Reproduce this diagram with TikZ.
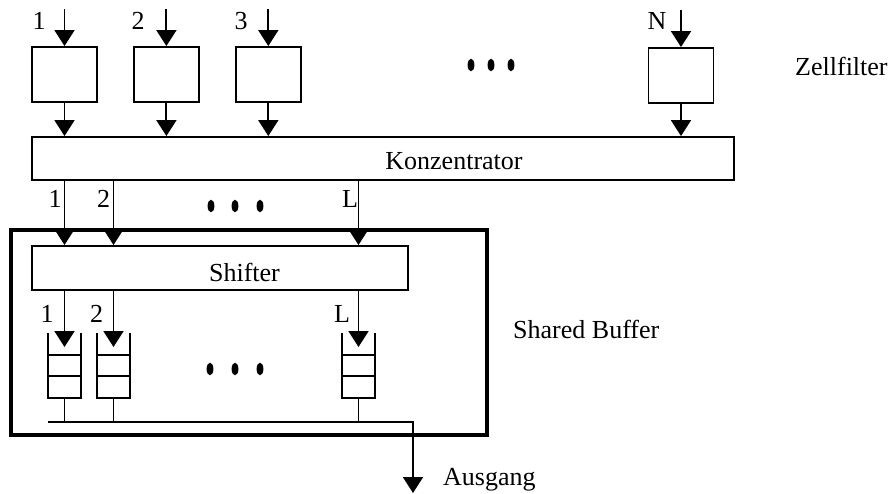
\documentclass[tikz,border=0pt]{standalone}
\usepackage{fontspec}
\setmainfont{Liberation Serif}
\usepackage{tikz}
\usetikzlibrary{positioning,arrows.meta,calc}
\tikzset{
  filt/.style={draw, line width=1.9pt, minimum width=65pt, minimum height=55pt, inner sep=0pt},
  bar/.style={draw, line width=1.9pt, minimum height=44pt, inner sep=0pt},
  frame/.style={draw, line width=3.6pt, minimum width=476pt, minimum height=205pt, inner sep=0pt},
  queue/.style={minimum width=33pt, minimum height=65pt, inner sep=0pt, outer sep=0pt},
  lbl/.style={inner sep=0pt, font=\fontsize{26}{30}\selectfont},
  flow/.style={-{Triangle[length=16pt,width=20pt]}, line width=1.9pt},
  wire/.style={line width=1.9pt},
}

\begin{document}
\begin{tikzpicture}[x=1pt, y=1pt, node distance=35pt]
\useasboundingbox (0,0) rectangle (891,-494);
\node[filt] (f1) at (64.5,-74.5) {};
\node[filt, right=of f1] (f2) {};
\node[filt, right=of f2] (f3) {};
\node[filt] (fN) at (681,-75.5) {};
\node[bar, minimum width=702pt, minimum height=43pt] (konz) at (383,-158.5) {};
\node[frame] (sbuf) at (249,-332.5) {};
\node[bar, minimum width=376pt] (shift) at (220,-268) {};
\node[queue] (q1) at (64.5,-365.5) {};
\node[queue] (q2) at (113.5,-365.5) {};
\node[queue] (qL) at (358.5,-365.5) {};
\node[lbl, anchor=base] (n1) at (39,-30) {1};
\node[lbl, anchor=base] (n2) at (138,-30) {2};
\node[lbl, anchor=base] (n3) at (241,-30) {3};
\node[lbl, anchor=base] (nN) at (657,-30) {N};
\node[lbl, anchor=base west] (zf) at (795,-76) {Zellfilter};
\node[lbl, anchor=base] (ktxt) at (454,-170) {Konzentrator};
\node[lbl, anchor=base] (k1) at (55,-208) {1};
\node[lbl, anchor=base] (k2) at (103.5,-208) {2};
\node[lbl, anchor=base] (kL) at (350,-208) {L};
\node[lbl, anchor=base] (stxt) at (244.5,-282) {Shifter};
\node[lbl, anchor=base] (s1) at (47,-322) {1};
\node[lbl, anchor=base] (s2) at (96.5,-322) {2};
\node[lbl, anchor=base] (sL) at (342,-322) {L};
\node[lbl, anchor=base west] (sb) at (513,-338) {Shared Buffer};
\node[lbl, anchor=base west] (ausg) at (443,-485) {Ausgang};
\coordinate[above=37pt of f1.north] (i1);
\coordinate[above=37pt of f2.north] (i2);
\coordinate[above=37pt of f3.north] (i3);
\coordinate[above=37pt of fN.north] (iN);
\coordinate (busL) at ([yshift=-24pt]q1.south west);
\coordinate (busR) at (413,-422);
\coordinate (out) at (413,-493);
\draw[flow] (i1) -- (f1.north);
\draw[flow] (i2) -- (f2.north);
\draw[flow] (i3) -- (f3.north);
\draw[flow] (iN) -- (fN.north);
\draw[flow] (f1.south) -- (f1.south |- konz.north);
\draw[flow] (f2.south) -- (f2.south |- konz.north);
\draw[flow] (f3.south) -- (f3.south |- konz.north);
\draw[flow] (fN.south) -- (fN.south |- konz.north);
\foreach \q in {q1,q2,qL} {
  \draw[flow] (\q |- konz.south) -- (\q |- shift.north);
  \draw[flow] (\q |- shift.south) -- ([yshift=-14pt]\q.north);
  \draw[wire] (\q.north west) -- (\q.south west) -- (\q.south east) -- (\q.north east);
  \draw[wire] ($(\q.south west)!1/3!(\q.north west)$) -- ($(\q.south east)!1/3!(\q.north east)$);
  \draw[wire] ($(\q.south west)!2/3!(\q.north west)$) -- ($(\q.south east)!2/3!(\q.north east)$);
  \draw[wire] (\q.south) -- (\q.south |- busL);
}
\draw[flow] (busL) -- (busR) -- (out);
\foreach \x in {471,491,511} \fill (\x,-65) ellipse (3.4 and 6.3);
\foreach \x in {211,235,260} \fill (\x,-206) ellipse (3.4 and 6.3);
\foreach \x in {210,235,260} \fill (\x,-369) ellipse (3.4 and 6.3);
\end{tikzpicture}
\end{document}
